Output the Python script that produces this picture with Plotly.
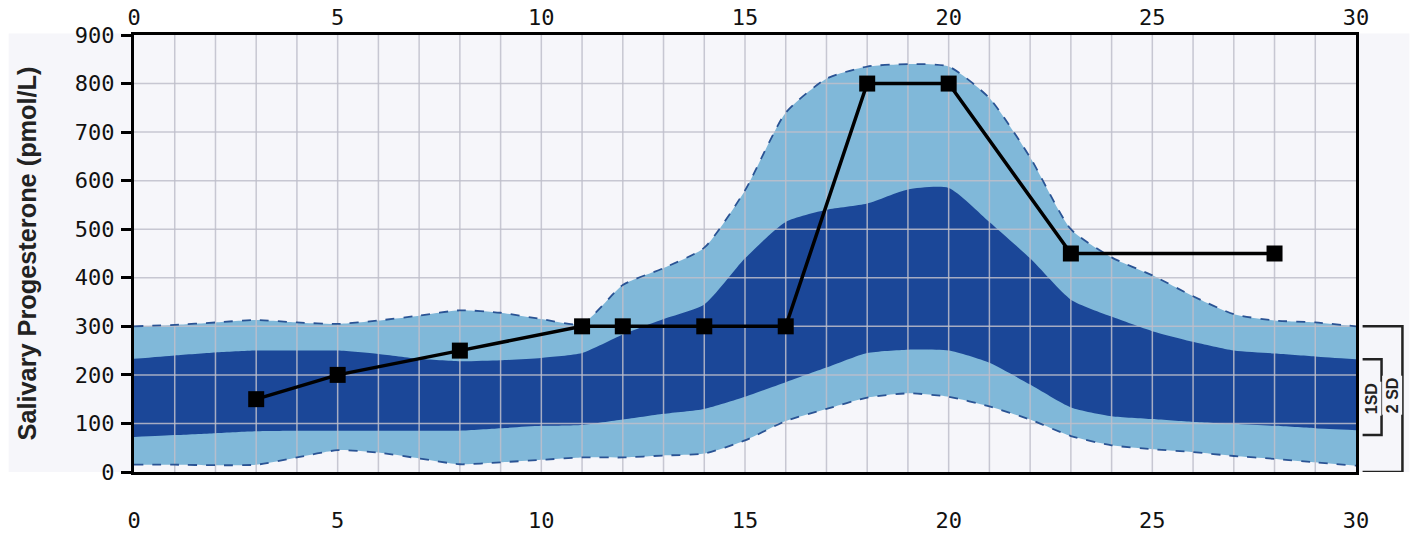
import plotly.graph_objects as go

# ---- data ----
x_band = list(range(0, 31))
sd2_upper = [300, 303, 308, 313, 308, 305, 312, 322, 333, 328, 315, 305, 385, 420, 462, 580, 740, 810, 835, 840, 835, 770, 648, 500, 442, 405, 362, 325, 312, 308, 300]
sd1_upper = [233, 240, 246, 250, 250, 250, 243, 233, 228, 230, 235, 245, 283, 315, 345, 440, 515, 540, 553, 582, 585, 515, 440, 355, 320, 290, 268, 250, 244, 238, 232]
sd1_lower = [72, 76, 80, 84, 85, 85, 85, 85, 85, 90, 95, 97, 108, 120, 130, 155, 185, 215, 245, 252, 250, 225, 180, 133, 115, 109, 103, 99, 95, 90, 86]
sd2_lower = [15, 15, 14, 15, 30, 45, 40, 28, 16, 20, 25, 30, 30, 34, 38, 65, 105, 130, 153, 162, 155, 135, 108, 74, 55, 47, 41, 33, 27, 20, 13]

sample_day = [3, 5, 8, 11, 12, 14, 16, 18, 20, 23, 28]
sample_value = [150, 200, 250, 300, 300, 300, 300, 800, 800, 450, 450]

x_ticks = [0, 5, 10, 15, 20, 25, 30]
y_ticks = [0, 100, 200, 300, 400, 500, 600, 700, 800, 900]
x_grid = list(range(0, 31))

LIGHT = "#80b8d9"
DARK = "#1b4798"
DASH = "#2a5394"
BG = "#f6f6fa"
TICKFONT = dict(family="DejaVu Sans Mono", size=22, color="#111")

fig = go.Figure()

# 2SD band
fig.add_trace(go.Scatter(x=x_band, y=sd2_lower, mode="lines", line=dict(width=0, shape="spline", smoothing=0.6),
                         showlegend=False, hoverinfo="skip"))
fig.add_trace(go.Scatter(x=x_band, y=sd2_upper, mode="lines", fill="tonexty", fillcolor=LIGHT,
                         line=dict(width=0, shape="spline", smoothing=0.6), showlegend=False, hoverinfo="skip"))
# 1SD band
fig.add_trace(go.Scatter(x=x_band, y=sd1_lower, mode="lines", line=dict(width=0, shape="spline", smoothing=0.6),
                         showlegend=False, hoverinfo="skip"))
fig.add_trace(go.Scatter(x=x_band, y=sd1_upper, mode="lines", fill="tonexty", fillcolor=DARK,
                         line=dict(width=0, shape="spline", smoothing=0.6), showlegend=False, hoverinfo="skip"))

# grid drawn above the bands
gx, gy = [], []
for v in x_grid[1:-1]:
    gx += [v, v, None]
    gy += [y_ticks[0], y_ticks[-1], None]
for v in y_ticks[1:-1]:
    gx += [x_grid[0], x_grid[-1], None]
    gy += [v, v, None]
fig.add_trace(go.Scatter(x=gx, y=gy, mode="lines", line=dict(color="rgba(190,190,202,0.85)", width=1.5),
                         showlegend=False, hoverinfo="skip"))

# dashed outer boundaries
for yy in (sd2_upper, sd2_lower):
    fig.add_trace(go.Scatter(x=x_band, y=yy, mode="lines",
                             line=dict(color=DASH, width=1.8, dash="dash", shape="spline", smoothing=0.6),
                             showlegend=False, hoverinfo="skip"))

# patient samples
fig.add_trace(go.Scatter(x=sample_day, y=sample_value, mode="lines+markers",
                         line=dict(color="black", width=3.5),
                         marker=dict(symbol="square", size=16, color="black"),
                         showlegend=False))

# invisible trace for top axis
fig.add_trace(go.Scatter(x=[0, 30], y=[0, 0], xaxis="x2", mode="markers", marker=dict(opacity=0),
                         showlegend=False, hoverinfo="skip"))

fig.update_layout(
    width=1418, height=534,
    margin=dict(l=133.5, r=61.5, t=34.5, b=61.5),
    paper_bgcolor="white",
    plot_bgcolor="#f7f7fb",
    xaxis=dict(range=[0, 30], tickvals=x_ticks, showgrid=False, zeroline=False, automargin=False,
               showline=True, linecolor="black", linewidth=3, mirror=True,
               ticks="", tickfont=TICKFONT, ticklabelstandoff=27),
    xaxis2=dict(range=[0, 30], tickvals=x_ticks, overlaying="x", side="top", showgrid=False, zeroline=False,
                automargin=False, showline=False, ticks="", tickfont=TICKFONT, ticklabelstandoff=5),
    yaxis=dict(range=[0, 900], tickvals=y_ticks, showgrid=False, zeroline=False, automargin=False,
               showline=True, linecolor="black", linewidth=3, mirror=True,
               ticks="outside", ticklen=10, tickwidth=3, tickcolor="black",
               tickfont=TICKFONT, ticklabelstandoff=2,
               title=dict(text="<b>Salivary Progesterone (pmol/L)</b>",
                          font=dict(family="Liberation Sans, Arial", size=25.3, color="#222"),
                          standoff=31)),
)

# pale background panel behind the plot
fig.add_shape(type="rect", xref="paper", yref="paper", x0=-0.1026, x1=1.0437, y0=0.0, y1=1.0034,
              fillcolor=BG, line=dict(width=0), layer="below")

# SD brackets at right
def bracket(x_out, top, bot, label, ylab):
    x_in = 1.0054
    fig.add_shape(type="path", xref="paper", yref="y",
                  path=f"M {x_in},{top} L {x_out},{top} L {x_out},{bot} L {x_in},{bot}",
                  line=dict(color="#222", width=2.5))
    fig.add_annotation(xref="paper", yref="y", x=x_out, y=ylab, text=f"<b>{label}</b>", textangle=-90,
                       showarrow=False, font=dict(family="Liberation Sans, Arial", size=16, color="#222"),
                       bgcolor=BG, borderpad=1)

bracket(1.038, sd2_upper[-1], 0, "2 SD", 158)
bracket(1.0209, sd1_upper[-1], sd1_lower[-1] - 10, "1SD", 150)

fig.write_html("out.html", config={"displayModeBar": False},
               post_script="document.body.style.margin='0';document.body.style.overflow='hidden';")
